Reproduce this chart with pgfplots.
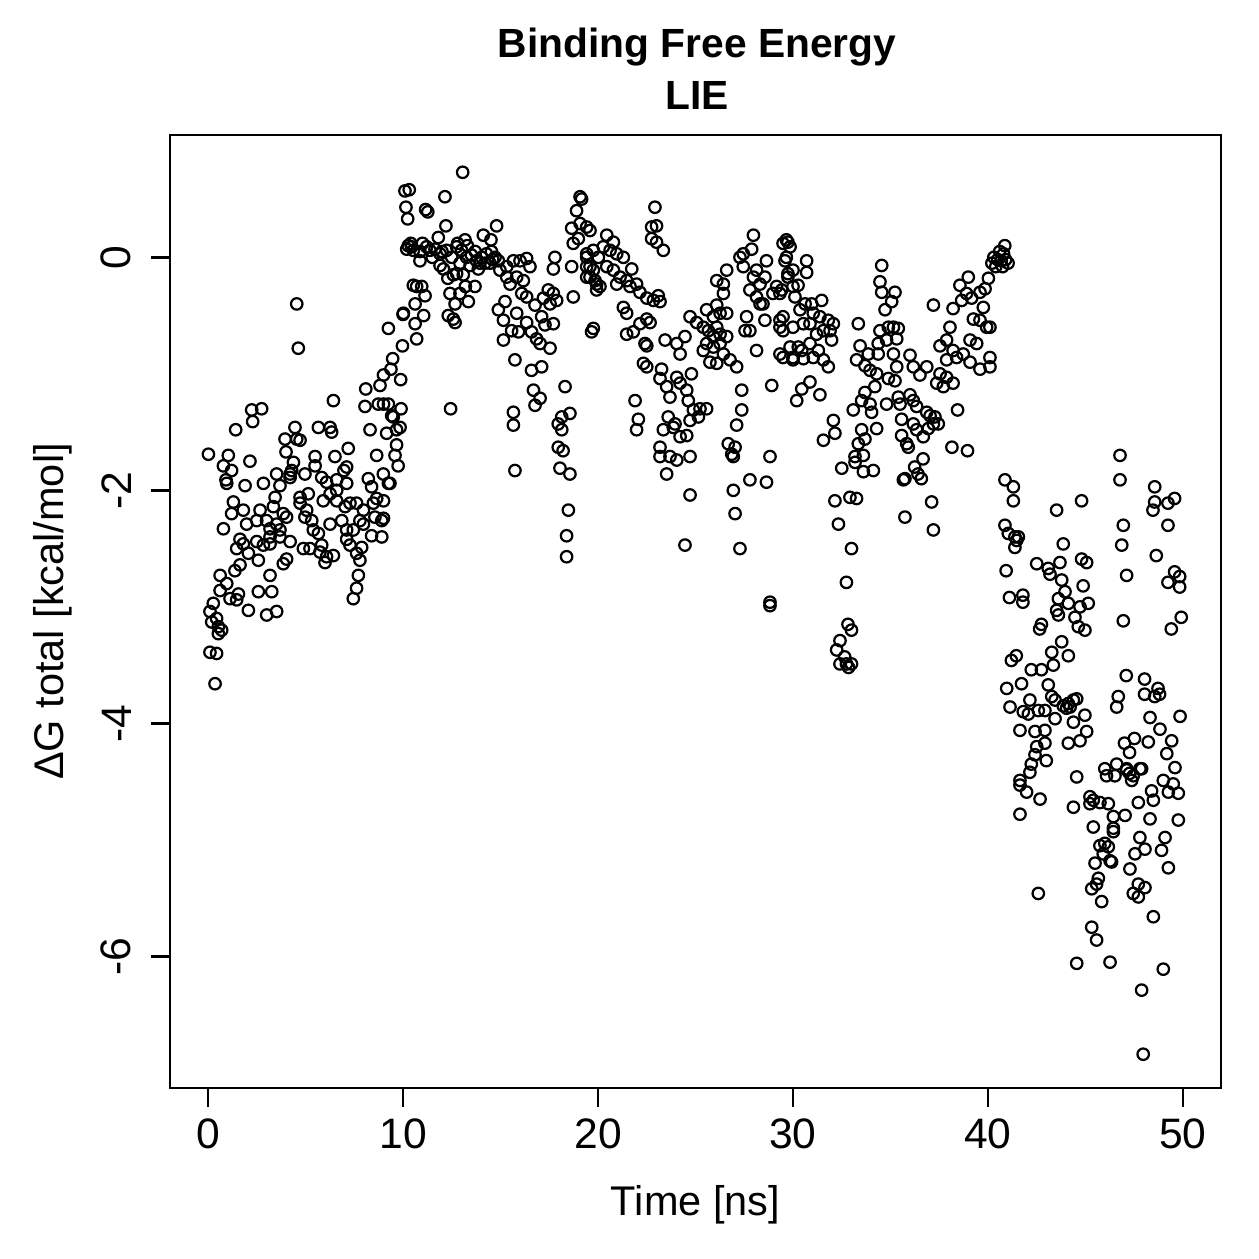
\documentclass[border=0pt]{standalone}
\usepackage{fontspec}
\setmainfont{Liberation Sans}
\usepackage{pgfplots}
\pgfplotsset{compat=1.18}
\pgfplotstableread{
x y
0.02 -1.69
0.10 -3.04
0.10 -3.39
0.19 -3.13
0.27 -2.97
0.36 -3.66
0.44 -3.10
0.44 -3.40
0.53 -3.17
0.53 -3.23
0.62 -2.73
0.62 -2.86
0.70 -3.20
0.79 -1.79
0.79 -2.33
0.92 -1.91
0.96 -1.94
0.96 -2.80
1.04 -1.70
1.13 -2.93
1.21 -1.83
1.21 -2.20
1.30 -2.10
1.38 -2.69
1.42 -1.48
1.47 -2.50
1.47 -2.94
1.56 -2.89
1.64 -2.42
1.64 -2.64
1.81 -2.17
1.81 -2.46
1.90 -1.96
1.98 -2.29
2.07 -2.54
2.07 -3.03
2.15 -1.75
2.24 -1.31
2.29 -1.41
2.50 -2.26
2.50 -2.44
2.58 -2.60
2.58 -2.87
2.67 -2.17
2.75 -1.30
2.84 -1.94
2.84 -2.47
3.00 -2.26
3.01 -3.07
3.18 -2.33
3.18 -2.40
3.18 -2.46
3.18 -2.73
3.27 -2.87
3.35 -2.14
3.44 -2.06
3.52 -1.86
3.52 -2.29
3.52 -3.04
3.69 -1.96
3.69 -2.34
3.69 -2.40
3.86 -2.20
3.86 -2.63
3.95 -1.56
4.00 -1.67
4.03 -2.23
4.03 -2.59
4.21 -1.86
4.21 -1.89
4.21 -2.44
4.29 -1.83
4.38 -1.76
4.46 -1.46
4.55 -0.40
4.55 -1.56
4.63 -0.78
4.72 -1.57
4.72 -2.06
4.72 -2.11
4.89 -2.50
4.97 -1.86
4.97 -2.23
5.06 -2.17
5.14 -2.03
5.23 -2.50
5.32 -2.26
5.40 -2.34
5.49 -1.71
5.49 -1.79
5.66 -1.46
5.66 -2.37
5.74 -2.53
5.83 -1.89
5.83 -2.47
5.91 -2.09
6.00 -2.62
6.08 -1.93
6.08 -2.57
6.26 -1.46
6.26 -2.03
6.26 -2.29
6.34 -1.50
6.43 -1.23
6.43 -2.56
6.51 -1.71
6.60 -1.91
6.60 -2.00
6.60 -2.09
6.86 -2.26
6.97 -1.83
7.03 -2.14
7.11 -1.80
7.11 -1.94
7.11 -2.34
7.11 -2.42
7.19 -1.64
7.28 -2.11
7.28 -2.47
7.45 -2.34
7.45 -2.93
7.62 -2.11
7.62 -2.54
7.62 -2.84
7.71 -2.73
7.79 -2.26
7.79 -2.60
7.88 -2.49
7.97 -2.17
7.97 -2.29
8.05 -1.28
8.09 -1.13
8.22 -1.90
8.31 -1.48
8.39 -1.97
8.39 -2.39
8.48 -2.11
8.56 -2.23
8.65 -1.70
8.65 -2.07
8.73 -1.26
8.82 -1.10
8.91 -2.26
8.91 -2.40
8.99 -1.86
9.00 -1.01
9.00 -1.26
9.00 -2.09
9.00 -2.24
9.16 -1.51
9.25 -0.61
9.25 -1.26
9.25 -1.94
9.33 -1.94
9.38 -0.96
9.42 -1.36
9.47 -0.87
9.50 -1.37
9.59 -1.70
9.67 -1.48
9.67 -1.61
9.75 -1.79
9.85 -1.46
9.88 -1.05
9.90 -1.30
9.97 -0.76
10.00 -0.49
10.02 -0.48
10.10 0.57
10.32 0.58
10.15 0.43
10.24 0.33
10.27 0.10
10.19 0.07
10.40 0.12
10.44 0.09
10.53 0.06
10.53 -0.24
10.62 -0.40
10.62 -0.57
10.70 -0.25
10.70 -0.70
10.87 0.05
10.87 -0.03
10.96 -0.25
11.00 0.12
11.06 -0.50
11.13 -0.33
11.16 0.41
11.27 0.39
11.21 0.09
11.38 0.06
11.50 0.00
11.64 0.07
11.81 0.17
11.90 0.03
11.90 -0.07
12.00 0.05
12.07 -0.10
12.15 0.52
12.20 0.27
12.24 0.06
12.30 -0.18
12.32 -0.50
12.41 -0.31
12.44 -1.30
12.50 0.00
12.58 -0.15
12.58 -0.53
12.67 -0.40
12.67 -0.56
12.75 0.09
12.75 -0.14
12.80 0.12
12.92 -0.05
12.92 -0.31
13.00 0.06
13.06 0.73
13.09 -0.15
13.18 0.15
13.20 -0.25
13.26 0.00
13.30 0.10
13.35 -0.38
13.44 -0.07
13.51 0.02
13.69 -0.25
13.70 0.05
13.77 -0.03
13.86 -0.10
13.95 -0.05
14.03 0.00
14.12 0.19
14.20 -0.05
14.28 0.03
14.46 -0.05
14.51 0.15
14.54 0.05
14.60 -0.02
14.72 0.00
14.80 0.27
14.89 -0.03
14.89 -0.45
14.97 -0.11
15.15 -0.54
15.15 -0.71
15.23 -0.38
15.32 -0.08
15.32 -0.17
15.49 -0.23
15.57 -0.63
15.66 -0.03
15.66 -1.33
15.66 -1.44
15.74 -0.88
15.74 -1.83
15.83 -0.17
15.83 -0.48
15.92 -0.64
16.00 -0.03
16.09 -0.31
16.17 -0.20
16.34 -0.01
16.34 -0.34
16.34 -0.56
16.51 -0.08
16.59 -0.64
16.59 -0.97
16.69 -1.14
16.77 -0.41
16.77 -1.27
16.85 -0.70
17.03 -0.74
17.03 -1.21
17.11 -0.51
17.11 -0.94
17.20 -0.35
17.28 -0.58
17.45 -0.28
17.54 -0.40
17.54 -0.78
17.71 -0.31
17.71 -0.57
17.71 -0.10
17.79 0.00
17.88 -0.37
17.96 -1.43
17.96 -1.63
18.05 -1.81
18.14 -1.37
18.14 -1.48
18.21 -1.66
18.31 -1.11
18.39 -2.39
18.39 -2.57
18.48 -2.17
18.56 -1.34
18.56 -1.86
18.65 -0.08
18.65 0.25
18.73 0.12
18.73 -0.34
18.90 0.40
18.99 0.16
19.08 0.52
19.08 0.29
19.16 0.50
19.42 0.26
19.42 0.00
19.42 -0.08
19.42 -0.17
19.42 0.03
19.59 0.23
19.59 -0.08
19.59 -0.17
19.67 -0.64
19.76 -0.61
19.76 0.06
19.76 -0.11
19.85 -0.20
19.93 -0.28
19.93 -0.23
20.02 0.00
20.10 -0.25
20.27 0.09
20.45 0.19
20.45 -0.08
20.62 0.06
20.79 0.13
20.79 -0.11
20.96 0.03
20.96 -0.23
21.13 -0.17
21.30 0.00
21.30 -0.43
21.47 -0.20
21.47 -0.48
21.47 -0.66
21.64 -0.25
21.73 -0.10
21.81 -0.64
21.90 -1.23
21.98 -0.23
21.98 -1.48
22.07 -1.39
22.15 -0.30
22.15 -0.57
22.33 -0.91
22.41 -0.74
22.50 -0.35
22.50 -0.53
22.50 -0.76
22.50 -0.94
22.67 -0.56
22.75 0.26
22.75 0.16
22.84 -0.37
22.92 0.43
23.00 0.27
23.00 0.13
23.09 -0.33
23.18 -0.38
23.18 -1.04
23.18 -1.63
23.18 -1.71
23.26 -0.96
23.35 0.06
23.35 -1.48
23.44 -0.71
23.52 -1.11
23.52 -1.86
23.60 -1.37
23.69 -1.20
23.69 -1.71
23.86 -1.46
23.95 -1.43
24.04 -0.74
24.04 -1.03
24.04 -1.74
24.21 -0.83
24.21 -1.08
24.21 -1.54
24.46 -0.68
24.46 -2.47
24.55 -1.14
24.55 -1.53
24.63 -1.23
24.72 -0.51
24.72 -1.40
24.72 -1.71
24.72 -2.04
24.79 -1.00
24.89 -1.31
25.06 -0.56
25.15 -1.37
25.23 -1.30
25.40 -0.60
25.40 -0.80
25.57 -0.45
25.57 -0.74
25.57 -1.30
25.66 -0.63
25.74 -0.90
25.92 -0.51
25.92 -0.68
25.92 -0.77
26.09 -0.20
26.09 -0.41
26.09 -0.60
26.09 -0.91
26.26 -0.48
26.26 -0.66
26.26 -0.74
26.43 -0.23
26.43 -0.31
26.43 -0.83
26.60 -0.11
26.60 -0.48
26.60 -0.68
26.68 -1.60
26.77 -0.88
26.86 -1.69
26.94 -1.71
26.94 -2.00
27.03 -1.63
27.03 -2.20
27.11 -0.94
27.11 -1.44
27.28 0.00
27.28 -2.50
27.37 -1.14
27.37 -1.31
27.45 0.03
27.45 -0.08
27.54 -0.63
27.62 -0.51
27.79 -0.28
27.79 -0.63
27.79 -1.91
27.88 0.07
27.97 0.19
27.97 -0.17
28.13 -0.11
28.13 -0.34
28.13 -0.80
28.31 -0.23
28.31 -0.40
28.46 -0.40
28.56 -0.17
28.56 -0.54
28.64 -0.03
28.64 -1.93
28.82 -1.71
28.82 -2.96
28.82 -2.99
28.91 -1.10
28.97 -0.31
29.16 -0.25
29.33 -0.31
29.33 -0.54
29.33 -0.60
29.33 -0.83
29.42 -0.28
29.49 0.12
29.49 -0.51
29.49 -0.63
29.49 -0.86
29.59 -0.03
29.66 0.00
29.66 0.15
29.74 0.13
29.74 -0.14
29.74 -0.17
29.85 0.09
29.85 -0.77
30.00 -0.11
30.00 -0.25
30.00 -0.60
30.00 -0.86
30.00 -0.88
30.10 -0.34
30.19 -1.23
30.26 -0.24
30.27 -0.77
30.36 -0.45
30.45 -0.80
30.45 -1.13
30.53 -0.57
30.53 -0.87
30.62 -0.40
30.70 -0.03
30.70 -0.13
30.87 -0.57
30.87 -0.74
30.87 -1.07
30.96 -0.40
31.04 -0.48
31.04 -0.86
31.21 -0.66
31.30 -0.80
31.38 -0.51
31.38 -1.18
31.47 -0.37
31.56 -0.63
31.56 -0.88
31.56 -1.57
31.81 -0.54
31.81 -0.94
31.90 -0.63
31.98 -0.71
32.07 -0.57
32.07 -1.40
32.15 -1.51
32.15 -2.09
32.24 -3.37
32.33 -2.29
32.41 -3.29
32.41 -3.49
32.50 -1.81
32.65 -3.43
32.74 -2.79
32.74 -3.49
32.82 -3.15
32.85 -3.52
32.92 -2.06
33.00 -2.50
33.00 -3.20
33.00 -3.49
33.09 -1.31
33.18 -1.71
33.18 -1.76
33.26 -0.88
33.26 -2.07
33.35 -0.57
33.35 -1.60
33.44 -0.76
33.52 -1.23
33.52 -1.48
33.61 -1.70
33.61 -1.84
33.69 -0.93
33.69 -1.16
33.69 -1.56
33.86 -0.83
33.95 -0.97
33.95 -1.26
34.03 -1.33
34.12 -1.83
34.20 -1.11
34.29 -1.00
34.29 -1.47
34.37 -0.74
34.37 -0.83
34.46 -0.21
34.46 -0.63
34.55 -0.07
34.55 -0.30
34.72 -0.45
34.80 -0.71
34.80 -1.26
34.89 -0.60
34.89 -1.04
35.06 -0.38
35.15 -0.60
35.15 -0.83
35.23 -0.30
35.23 -1.06
35.32 -0.70
35.32 -0.94
35.40 -0.61
35.40 -1.20
35.49 -1.26
35.57 -1.39
35.57 -1.53
35.66 -1.91
35.74 -1.90
35.74 -2.23
35.83 -1.60
35.91 -1.63
36.00 -0.84
36.00 -1.18
36.17 -0.94
36.17 -1.23
36.17 -1.43
36.24 -1.80
36.34 -1.28
36.34 -1.48
36.41 -1.86
36.51 -1.01
36.58 -1.90
36.67 -1.73
36.68 -1.54
36.86 -0.94
36.86 -1.33
36.94 -1.47
37.03 -1.36
37.11 -2.10
37.20 -0.41
37.20 -1.43
37.20 -2.34
37.28 -1.37
37.37 -1.08
37.45 -1.43
37.54 -0.76
37.54 -1.00
37.71 -1.11
37.88 -0.71
37.88 -0.88
37.88 -1.03
38.05 -0.60
38.15 -1.63
38.21 -0.44
38.21 -0.80
38.21 -1.08
38.39 -0.86
38.44 -1.31
38.56 -0.24
38.65 -0.37
38.73 -0.83
38.90 -0.31
38.95 -1.66
38.99 -0.17
39.08 -0.71
39.08 -0.90
39.16 -0.35
39.25 -0.53
39.42 -0.74
39.59 -0.30
39.59 -0.54
39.59 -0.96
39.76 -0.43
39.85 -0.27
39.93 -0.60
40.02 -0.18
40.10 -0.60
40.10 -0.86
40.10 -0.94
40.20 -0.05
40.30 0.00
40.40 -0.08
40.50 -0.02
40.60 0.05
40.68 -0.03
40.75 -0.08
40.80 0.03
40.86 0.10
40.90 -0.02
41.03 -0.05
40.87 -1.91
40.87 -2.30
40.93 -2.69
40.96 -3.70
41.04 -2.37
41.10 -2.92
41.13 -3.86
41.20 -3.46
41.30 -1.97
41.30 -2.09
41.38 -2.40
41.38 -2.49
41.45 -3.42
41.47 -2.43
41.56 -2.40
41.64 -4.06
41.64 -4.49
41.64 -4.53
41.64 -4.78
41.72 -3.66
41.79 -2.90
41.79 -2.96
41.81 -3.90
41.98 -4.59
42.07 -3.92
42.15 -3.80
42.15 -4.42
42.22 -3.54
42.22 -4.35
42.41 -4.07
42.41 -4.27
42.50 -2.63
42.50 -4.20
42.58 -3.89
42.58 -5.46
42.65 -3.19
42.67 -4.65
42.74 -3.15
42.74 -3.54
42.92 -3.89
42.92 -4.06
42.92 -4.17
42.99 -4.32
43.09 -2.67
43.09 -3.67
43.18 -2.72
43.27 -3.39
43.27 -3.77
43.35 -3.50
43.44 -3.80
43.44 -3.96
43.52 -2.17
43.52 -3.03
43.61 -2.93
43.61 -3.07
43.69 -2.62
43.78 -2.77
43.78 -3.30
43.86 -2.46
43.86 -3.85
43.95 -2.87
44.03 -3.87
44.12 -2.97
44.12 -3.42
44.12 -3.83
44.12 -4.17
44.21 -3.86
44.38 -3.80
44.38 -3.99
44.38 -4.72
44.46 -3.09
44.55 -3.79
44.55 -4.46
44.55 -6.06
44.63 -3.17
44.72 -3.00
44.72 -4.15
44.80 -2.09
44.80 -2.59
44.88 -2.82
44.97 -3.20
44.97 -3.93
45.06 -2.62
45.06 -4.07
45.14 -2.97
45.23 -4.63
45.23 -4.69
45.32 -5.42
45.32 -5.75
45.40 -4.66
45.40 -4.89
45.49 -5.20
45.57 -5.38
45.57 -5.86
45.66 -5.33
45.74 -4.68
45.74 -5.05
45.83 -5.53
45.91 -5.12
45.99 -4.39
45.99 -5.03
46.08 -4.45
46.17 -4.69
46.17 -5.06
46.26 -5.18
46.26 -6.05
46.34 -5.19
46.43 -4.80
46.43 -4.90
46.43 -4.93
46.51 -4.45
46.60 -3.86
46.60 -4.35
46.68 -3.77
46.77 -1.70
46.77 -1.91
46.86 -2.47
46.94 -2.30
46.94 -3.12
47.00 -4.17
47.03 -4.79
47.09 -3.59
47.11 -2.73
47.11 -4.39
47.11 -4.40
47.26 -4.25
47.26 -4.43
47.28 -5.25
47.37 -4.49
47.45 -4.45
47.45 -5.46
47.51 -4.13
47.54 -5.12
47.71 -4.68
47.71 -5.38
47.71 -5.49
47.79 -4.39
47.79 -4.98
47.88 -4.39
47.88 -6.29
47.96 -6.84
48.03 -3.62
48.03 -3.75
48.05 -5.08
48.05 -5.41
48.22 -4.16
48.31 -3.95
48.31 -4.82
48.39 -4.58
48.46 -2.17
48.48 -4.66
48.48 -5.66
48.55 -1.97
48.55 -2.10
48.55 -3.77
48.63 -2.56
48.72 -3.70
48.80 -3.75
48.82 -4.05
48.90 -5.09
48.99 -4.49
48.99 -6.11
49.08 -4.98
49.17 -4.26
49.23 -2.11
49.23 -2.30
49.23 -2.79
49.25 -4.59
49.25 -5.24
49.40 -3.19
49.42 -4.15
49.50 -4.52
49.57 -2.07
49.57 -2.70
49.59 -4.38
49.76 -4.60
49.76 -4.83
49.83 -2.74
49.83 -2.83
49.85 -3.94
49.91 -3.09
}\lie
\begin{document}
\begin{tikzpicture}
\path (-45.9pt,-46.17pt) rectangle (294.03pt,293.76pt);
\begin{axis}[
  at={(0,0)}, anchor=south west,
  scale only axis, width=283.77pt, height=257.31pt,
  xmin=-1.95, xmax=51.95, ymin=-7.13, ymax=1.05,
  axis line style={line width=0.75pt},
  xtick={0,10,20,30,40,50}, ytick={-6,-4,-2,0},
  tick pos=left, tick align=outside, major tick length=5pt,
  every tick/.style={black, line width=0.65pt},
  /pgf/number format/assume math mode=true,
  ticklabel style={font=\fontsize{11.5}{13.5}\selectfont},
  xticklabel style={anchor=north, inner sep=0pt},
  yticklabel style={rotate=90, anchor=south, inner sep=0pt},
  xticklabel shift=3pt,
  yticklabel shift=5.3pt,
  xlabel={Time [ns]}, ylabel={ΔG total [kcal/mol]},
  label style={font=\fontsize{11.2}{13.2}\selectfont},
  xlabel style={at={(axis description cs:0.5,0)}, anchor=center, yshift=-31.6pt},
  ylabel style={at={(axis description cs:0,0.5)}, anchor=center, yshift=31.7pt},
  clip=false,
]
\addplot[only marks, mark=o, mark size=1.55pt, mark options={line width=0.6pt, draw=black}] table[x=x, y=y] {\lie};
\end{axis}
\node[font=\bfseries\fontsize{11}{14}\selectfont, anchor=base, inner sep=0pt] at (142.3pt, 278.2pt) {Binding Free Energy};
\node[font=\bfseries\fontsize{11}{14}\selectfont, anchor=base, inner sep=0pt] at (142.3pt, 264.25pt) {LIE};
\end{tikzpicture}
\end{document}
